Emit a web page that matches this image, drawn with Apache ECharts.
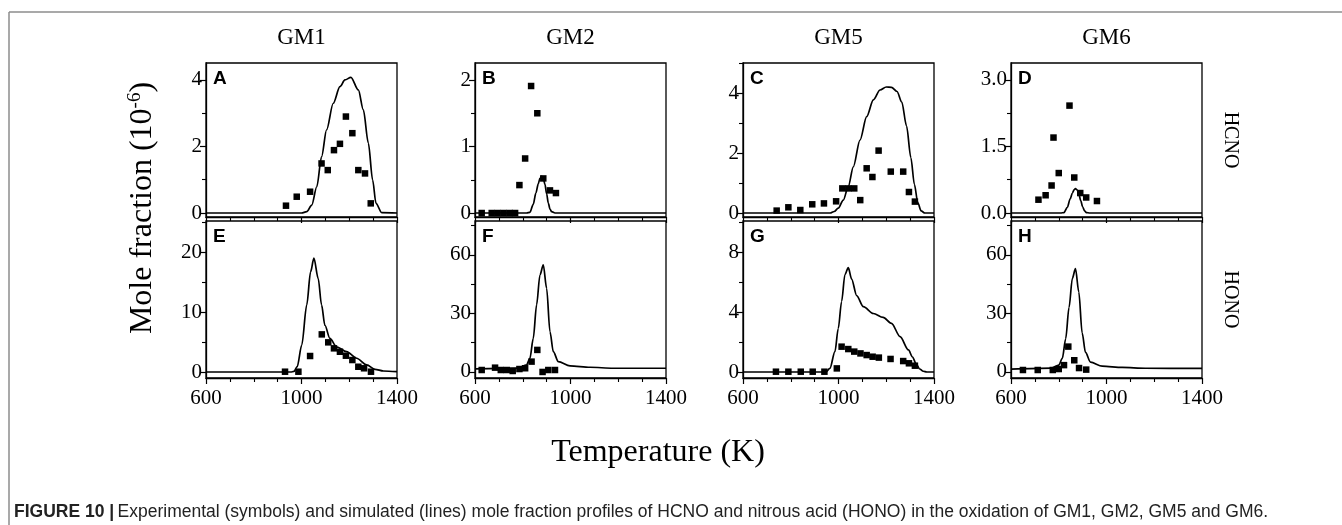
<!DOCTYPE html>
<html><head><meta charset="utf-8">
<script src="https://cdn.jsdelivr.net/npm/echarts@6/dist/echarts.min.js"></script>
<style>html,body{margin:0;padding:0;background:#fff}#c{width:1342px;height:525px}</style>
</head><body><div id="c"></div>
<script>
// ---------- data ----------
const columns = ['GM1', 'GM2', 'GM5', 'GM6'];
const rowNames = ['HCNO', 'HONO'];
const panelLetters = ['A', 'B', 'C', 'D', 'E', 'F', 'G', 'H'];
const xTickLabels = [600, 1000, 1400];
const xMinorStep = 100;

// HCNO (10^-6)
const gm1HcnoExp = [[935,0.22],[980,0.49],[1036,0.64],[1084,1.49],[1110,1.29],[1136,1.89],[1161,2.08],[1186,2.90],[1213,2.40],[1238,1.29],[1266,1.19],[1290,0.29]];
const gm1HcnoSim = [[600,0],[1000,0],[1022,0.04],[1043,0.24],[1064,0.79],[1084,1.69],[1105,2.5],[1133,3.3],[1161,3.8],[1182,4.0],[1207,4.08],[1238,3.7],[1259,3.1],[1280,2.1],[1298,0.99],[1312,0.29],[1336,0.01],[1400,0]];
const gm2HcnoExp = [[628,0],[670,0],[695,0],[720,0],[745,0],[768,0],[786,0.42],[810,0.82],[835,1.91],[861,1.50],[886,0.52],[914,0.34],[939,0.30]];
const gm2HcnoSim = [[600,0],[816,0],[830,0.01],[844,0.13],[855,0.3],[865,0.44],[872,0.52],[879,0.55],[886,0.52],[893,0.43],[900,0.29],[907,0.15],[914,0.06],[921,0.02],[935,0],[1400,0]];
const gm5HcnoExp = [[741,0.08],[790,0.19],[840,0.10],[890,0.29],[939,0.32],[990,0.39],[1016,0.82],[1041,0.82],[1066,0.82],[1091,0.43],[1118,1.49],[1142,1.20],[1168,2.08],[1219,1.38],[1271,1.38],[1295,0.70],[1320,0.38]];
const gm5HcnoSim = [[600,0],[965,0],[982,0.05],[999,0.16],[1020,0.43],[1041,0.88],[1062,1.54],[1090,2.43],[1118,3.21],[1146,3.77],[1174,4.1],[1200,4.2],[1222,4.19],[1245,4.05],[1265,3.7],[1285,2.9],[1303,1.85],[1318,0.95],[1332,0.35],[1346,0.07],[1362,0],[1400,0]];
const gm6HcnoExp = [[715,0.30],[745,0.40],[770,0.62],[778,1.70],[800,0.90],[845,2.42],[865,0.80],[890,0.45],[915,0.35],[960,0.27]];
const gm6HcnoSim = [[600,0],[808,0],[822,0.01],[836,0.13],[848,0.32],[857,0.45],[864,0.52],[870,0.55],[877,0.52],[884,0.43],[892,0.28],[900,0.14],[908,0.05],[916,0.01],[930,0],[1400,0]];

// HONO (10^-6)
const gm1HonoExp = [[931,0.05],[987,0.05],[1036,2.67],[1085,6.28],[1112,4.95],[1136,3.95],[1161,3.38],[1186,2.72],[1213,2.0],[1238,0.88],[1262,0.62],[1291,0.05]];
const gm1HonoSim = [[600,0],[955,0],[968,0.1],[982,0.9],[1001,4.5],[1022,11.2],[1038,16.7],[1052,19.0],[1070,15.6],[1084,11.2],[1098,7.8],[1119,5.6],[1147,4.2],[1189,3.4],[1231,2.3],[1273,1.2],[1308,0.45],[1343,0.17],[1400,0.05]];
const gm2HonoExp = [[628,1.0],[684,2.2],[708,1.0],[733,1.0],[758,0.5],[786,1.5],[810,1.9],[837,5.3],[861,11.3],[883,0],[907,1.0],[935,1.0]];
const gm2HonoSim = [[600,1.6],[780,2.0],[816,3.6],[830,7],[844,17.2],[858,34.4],[872,49.7],[886,54.9],[900,42.9],[914,20.7],[928,10.4],[949,5.3],[998,3.1],[1082,2.4],[1179,1.9],[1400,1.9]];
const gm5HonoExp = [[738,0.02],[790,0.02],[842,0.02],[892,0.02],[941,0.02],[993,0.24],[1013,1.69],[1041,1.53],[1066,1.36],[1092,1.24],[1118,1.13],[1143,1.02],[1169,0.96],[1218,0.87],[1271,0.73],[1295,0.58],[1320,0.42]];
const gm5HonoSim = [[600,0],[947,0],[964,0.24],[985,1.36],[999,2.9],[1013,4.7],[1027,6.5],[1041,6.96],[1055,6.2],[1076,5.1],[1104,4.36],[1146,3.9],[1187,3.64],[1222,3.24],[1258,2.36],[1293,1.47],[1310,1.0],[1325,0.55],[1340,0.2],[1355,0.05],[1370,0],[1400,0]];
const gm6HonoExp = [[650,1.0],[712,1.0],[775,1.0],[800,1.5],[822,3.5],[840,13.0],[865,6.0],[885,2.0],[915,1.2]];
const gm6HonoSim = [[600,1.5],[770,2.0],[800,3.5],[815,7],[829,17],[843,33],[857,48],[870,53],[884,41],[898,20],[912,10],[933,5],[982,3],[1066,2.3],[1163,1.9],[1400,1.8]];

// y tick labels per panel
const yMajorA = [0, 2, 4],     yMinorA = [1, 3];
const yMajorB = [0, 1, 2],     yMinorB = [0.5, 1.5];
const yMajorC = [0, 2, 4],     yMinorC = [1, 3, 5];
const yMajorD = [0, 1.5, 3],   yMinorD = [0.75, 2.25];
const yMajorE = [0, 10, 20],   yMinorE = [5, 15, 25];
const yMajorF = [0, 30, 60],   yMinorF = [15, 45, 75];
const yMajorG = [0, 4, 8],     yMinorG = [2, 6, 10];
const yMajorH = [0, 30, 60],   yMinorH = [15, 45, 75];

// ---------- layout ----------
const colLeft = [206, 475, 743, 1011];
const panelW = 191;
const rowTop = [63, 221];
const rowH = [154, 157];
const SERIF = '"Liberation Serif","Times New Roman",serif';
const SANS = '"Liberation Sans",Arial,sans-serif';

const panels = [
  {exp: gm1HcnoExp, sim: gm1HcnoSim, range: [-0.12, 4.51], major: yMajorA, minor: yMinorA, dec: 0},
  {exp: gm2HcnoExp, sim: gm2HcnoSim, range: [-0.06, 2.256], major: yMajorB, minor: yMinorB, dec: 0},
  {exp: gm5HcnoExp, sim: gm5HcnoSim, range: [-0.133, 5.0], major: yMajorC, minor: yMinorC, dec: 0},
  {exp: gm6HcnoExp, sim: gm6HcnoSim, range: [-0.09, 3.38], major: yMajorD, minor: yMinorD, dec: 1},
  {exp: gm1HonoExp, sim: gm1HonoSim, range: [-1, 25.2], major: yMajorE, minor: yMinorE, dec: 0},
  {exp: gm2HonoExp, sim: gm2HonoSim, range: [-3.1, 77.4], major: yMajorF, minor: yMinorF, dec: 0},
  {exp: gm5HonoExp, sim: gm5HonoSim, range: [-0.4, 10.07], major: yMajorG, minor: yMinorG, dec: 0},
  {exp: gm6HonoExp, sim: gm6HonoSim, range: [-3.1, 77.4], major: yMajorH, minor: yMinorH, dec: 0}
];

const grids = [], xAxes = [], yAxes = [], series = [], graphics = [];
const axisColor = '#000';

panels.forEach((p, i) => {
  const col = i % 4, row = Math.floor(i / 4);
  grids.push({left: colLeft[col], top: rowTop[row], width: panelW, height: rowH[row],
    show: true, borderColor: axisColor, borderWidth: 1.3, backgroundColor: 'transparent', containLabel: false});
  xAxes.push({type: 'value', gridIndex: i, position: 'bottom', min: xTickLabels[0], max: xTickLabels[xTickLabels.length - 1],
    interval: xTickLabels[1] - xTickLabels[0],
    axisLine: {show: true, onZero: false, lineStyle: {color: axisColor, width: 1.3}},
    axisTick: {show: true, inside: false, length: 6, lineStyle: {color: axisColor, width: 1.2}},
    minorTick: {show: true, splitNumber: (xTickLabels[1] - xTickLabels[0]) / xMinorStep, length: 4, lineStyle: {color: axisColor, width: 1.1}},
    splitLine: {show: false}, minorSplitLine: {show: false},
    axisLabel: {show: row === 1, fontFamily: SERIF, fontSize: 21, color: '#000', margin: 10, formatter: v => String(v)}});
  yAxes.push({type: 'value', gridIndex: i, position: 'left', min: p.range[0], max: p.range[1],
    axisLine: {show: true, onZero: false, lineStyle: {color: axisColor, width: 1.3}},
    axisTick: {show: true, inside: false, length: 6, customValues: p.major, lineStyle: {color: axisColor, width: 1.2}},
    axisLabel: {show: true, customValues: p.major, fontFamily: SERIF, fontSize: 21, color: '#000', margin: 4,
      formatter: v => Number(v).toFixed(p.dec)},
    splitLine: {show: false}});
  yAxes.push({type: 'value', gridIndex: i, position: 'left', offset: 0, min: p.range[0], max: p.range[1],
    axisLine: {show: false, onZero: false},
    axisTick: {show: true, inside: false, length: 4, customValues: p.minor, lineStyle: {color: axisColor, width: 1.1}},
    axisLabel: {show: false}, splitLine: {show: false}});
  series.push({type: 'line', xAxisIndex: i, yAxisIndex: 2 * i, data: p.sim, showSymbol: false,
    smooth: 0.3, smoothMonotone: 'x', lineStyle: {color: '#000', width: 1.7}, z: 3, silent: true});
  series.push({type: 'scatter', xAxisIndex: i, yAxisIndex: 2 * i, data: p.exp, symbol: 'rect',
    symbolSize: 6.5, itemStyle: {color: '#000', opacity: 1}, z: 4, silent: true});
  graphics.push({type: 'text', left: colLeft[col] + 7, top: rowTop[row] + 6,
    style: {text: panelLetters[i], font: 'bold 19px ' + SANS, fill: '#000'}});
});

columns.forEach((c, k) => {
  graphics.push({type: 'text', x: colLeft[k] + panelW / 2, y: 38,
    style: {text: c, font: '23px ' + SERIF, fill: '#000', align: 'center', verticalAlign: 'middle', textAlign: 'center', textVerticalAlign: 'middle'}});
});
rowNames.forEach((r, k) => {
  graphics.push({type: 'text', x: colLeft[3] + panelW + 28, y: rowTop[k] + rowH[k] / 2, rotation: -Math.PI / 2,
    style: {text: r, font: '20px ' + SERIF, fill: '#000', align: 'center', verticalAlign: 'middle', textAlign: 'center', textVerticalAlign: 'middle'}});
});
// axis titles
graphics.push({type: 'text', x: 143, y: 208, rotation: Math.PI / 2,
  style: {text: '{n|Mole fraction (10}{s|-6}{n|)}', fill: '#000', align: 'center', verticalAlign: 'middle', textAlign: 'center', textVerticalAlign: 'middle',
    rich: {n: {fontFamily: SERIF, fontSize: 32, fill: '#000'}, s: {fontFamily: SERIF, fontSize: 19, fill: '#000', padding: [0, 0, 16, 0]}}}});
graphics.push({type: 'text', x: 658, y: 453,
  style: {text: 'Temperature (K)', font: '32px ' + SERIF, fill: '#000', align: 'center', verticalAlign: 'middle', textAlign: 'center', textVerticalAlign: 'middle'}});
// caption
graphics.push({type: 'text', x: 14, y: 512,
  style: {text: '{b|FIGURE 10 |} {r|Experimental (symbols) and simulated (lines) mole fraction profiles of HCNO and nitrous acid (HONO) in the oxidation of GM1, GM2, GM5 and GM6.}',
    verticalAlign: 'middle', textVerticalAlign: 'middle',
    rich: {b: {fontFamily: SANS, fontWeight: 'bold', fontSize: 17.5, fill: '#222'}, r: {fontFamily: SANS, fontSize: 17.5, fill: '#222'}}}});
// frame
graphics.push({type: 'line', shape: {x1: 9, y1: 12, x2: 1342, y2: 12}, style: {stroke: '#8c8c8c', lineWidth: 1.5}});
graphics.push({type: 'line', shape: {x1: 9, y1: 12, x2: 9, y2: 525}, style: {stroke: '#8c8c8c', lineWidth: 1.5}});

const chart = echarts.init(document.getElementById('c'), null, {renderer: 'canvas'});
chart.setOption({animation: false, backgroundColor: '#fff', grid: grids, xAxis: xAxes, yAxis: yAxes, series: series, graphic: graphics});
</script></body></html>
